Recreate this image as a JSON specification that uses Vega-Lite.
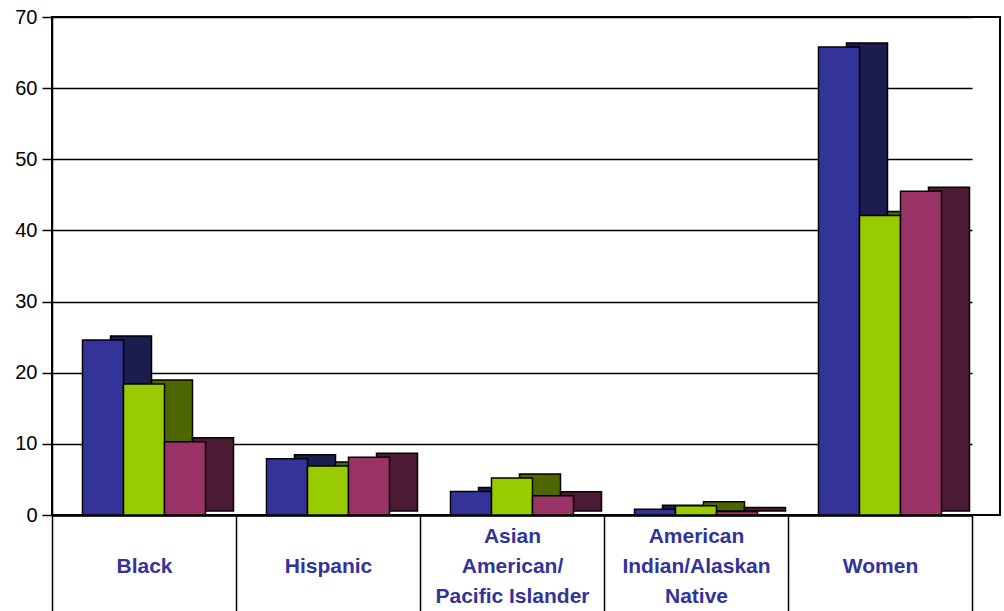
{
  "$schema": "https://vega.github.io/schema/vega-lite/v6.json",
  "autosize": "none",
  "padding": {"left": 52, "top": 17, "right": 4, "bottom": 96},
  "width": 948,
  "height": 498,
  "background": "white",
  "config": {
    "view": {"stroke": "black", "strokeWidth": 2},
    "font": "Liberation Sans"
  },
  "data": {
    "values": [
      {"group": "Black", "series": "Series 1", "value": 24.6},
      {"group": "Black", "series": "Series 2", "value": 18.4},
      {"group": "Black", "series": "Series 3", "value": 10.3},
      {"group": "Hispanic", "series": "Series 1", "value": 7.9},
      {"group": "Hispanic", "series": "Series 2", "value": 6.9},
      {"group": "Hispanic", "series": "Series 3", "value": 8.1},
      {"group": "Asian American/Pacific Islander", "series": "Series 1", "value": 3.3},
      {"group": "Asian American/Pacific Islander", "series": "Series 2", "value": 5.2},
      {"group": "Asian American/Pacific Islander", "series": "Series 3", "value": 2.7},
      {"group": "American Indian/Alaskan Native", "series": "Series 1", "value": 0.8},
      {"group": "American Indian/Alaskan Native", "series": "Series 2", "value": 1.3},
      {"group": "American Indian/Alaskan Native", "series": "Series 3", "value": 0.5},
      {"group": "Women", "series": "Series 1", "value": 65.8},
      {"group": "Women", "series": "Series 2", "value": 42.1},
      {"group": "Women", "series": "Series 3", "value": 45.5}
    ]
  },
  "encoding": {
    "x": {
      "field": "group",
      "type": "nominal",
      "sort": null,
      "scale": {"range": [0, 920], "paddingInner": 0, "paddingOuter": 0},
      "axis": {
        "title": null,
        "labelAngle": 0,
        "tickBand": "extent",
        "tickSize": 96,
        "tickColor": "black",
        "tickWidth": 1.5,
        "domainColor": "black",
        "domainWidth": 2.5,
        "labelPadding": -75,
        "labelBaseline": "middle",
        "labelFont": "Liberation Sans",
        "labelFontSize": 21,
        "labelFontWeight": "bold",
        "labelColor": "#333399",
        "labelLineHeight": 30,
        "labelLimit": 0,
        "labelOverlap": false,
        "labelExpr": "datum.label == 'Asian American/Pacific Islander' ? ['Asian', 'American/', 'Pacific Islander'] : datum.label == 'American Indian/Alaskan Native' ? ['American', 'Indian/Alaskan', 'Native'] : ['', datum.label, '']"
      }
    },
    "y": {
      "field": "value",
      "type": "quantitative",
      "scale": {"domain": [0, 70], "nice": false},
      "axis": {
        "title": null,
        "values": [0, 10, 20, 30, 40, 50, 60, 70],
        "grid": true,
        "gridColor": "black",
        "gridWidth": 1.5,
        "gridOpacity": 1,
        "domainColor": "black",
        "domainWidth": 1.5,
        "tickColor": "black",
        "tickSize": 10,
        "tickWidth": 1.5,
        "labelPadding": 5,
        "labelFont": "Liberation Sans",
        "labelFontSize": 20,
        "labelColor": "black"
      }
    }
  },
  "resolve": {"scale": {"xOffset": "independent"}},
  "layer": [
    {
      "mark": {"type": "bar", "yOffset": -4, "y2Offset": -4, "stroke": "black", "strokeWidth": 1.5},
      "encoding": {
        "xOffset": {
          "field": "series",
          "type": "nominal",
          "scale": {"paddingInner": 0, "paddingOuter": 0.744, "range": [28, 212]}
        },
        "color": {
          "field": "series",
          "type": "nominal",
          "scale": {"domain": ["Series 1", "Series 2", "Series 3"], "range": ["#1c1c4e", "#4d6600", "#4d1a33"]},
          "legend": null
        }
      }
    },
    {
      "mark": {"type": "bar", "stroke": "black", "strokeWidth": 1.5},
      "encoding": {
        "xOffset": {
          "field": "series",
          "type": "nominal",
          "scale": {"paddingInner": 0, "paddingOuter": 0.744}
        },
        "fill": {
          "field": "series",
          "type": "nominal",
          "scale": {"domain": ["Series 1", "Series 2", "Series 3"], "range": ["#333399", "#99cc00", "#993366"]},
          "legend": null
        }
      }
    }
  ]
}
